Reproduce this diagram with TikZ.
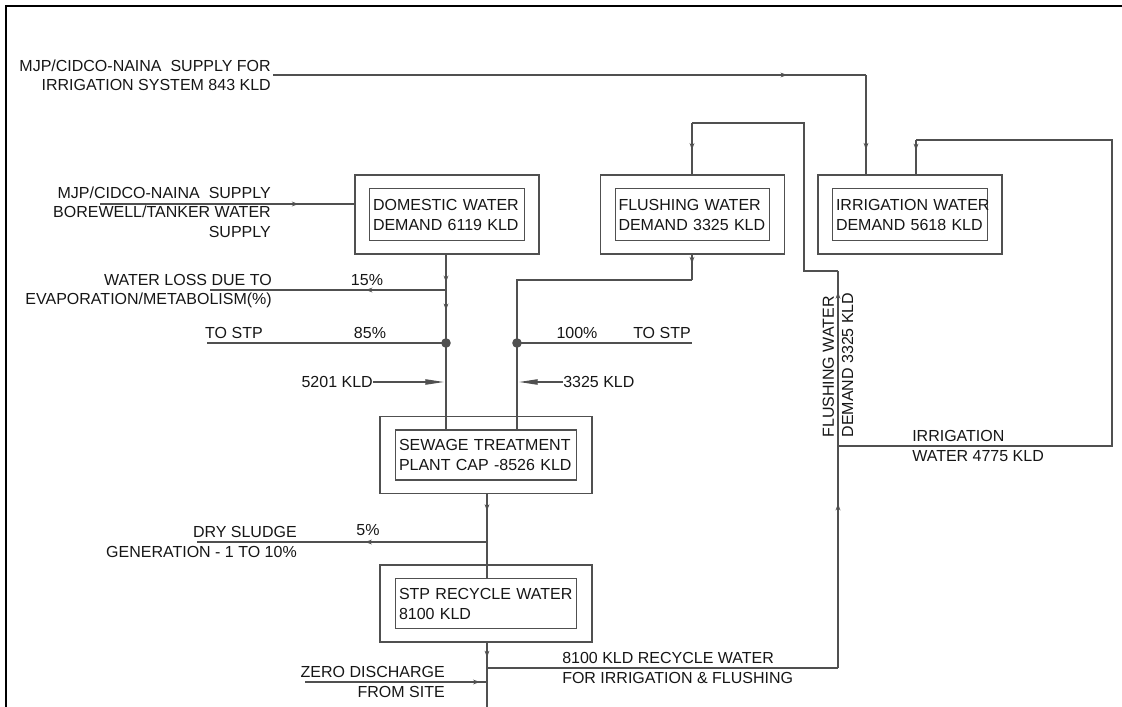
\documentclass[tikz,border=0pt]{standalone}
\usepackage{fontspec}
\setmainfont{Liberation Sans}
\usetikzlibrary{arrows.meta, positioning, calc, decorations.markings}
\definecolor{pipegray}{HTML}{505050}
\definecolor{inkgray}{HTML}{161616}

\begin{document}
\begin{tikzpicture}[x=0.75pt, y=-0.75pt, >=Stealth,
  pipe/.style={draw=pipegray, line width=0.9pt},
  flowmark/.style={postaction={decorate, decoration={markings,
      mark=at position #1 with {\arrow{Stealth[length=5pt, width=3.6pt]}}}}},
  lbl/.style={inner sep=0pt, text=inkgray, font=\fontsize{12}{14.5}\selectfont},
  demandbox/.style={draw=pipegray, line width=0.9pt, minimum width=138pt, minimum height=59.25pt},
  demandin/.style={draw=pipegray, line width=0.9pt, text width=111pt, minimum height=39pt,
      inner sep=2.5pt, align=left, text=inkgray, font=\fontsize{12}{15}\selectfont},
  stpbox/.style={demandbox, minimum width=159pt, minimum height=57.75pt},
  stpin/.style={demandin, text width=130.5pt, minimum height=37.5pt},
  joint/.style={fill=pipegray}]
  \useasboundingbox (0,0) rectangle (1122,707);
  \draw[line width=2.2pt] (1122,6) -- (6,6) -- (6,707);

  \node[demandbox] (dom) at (447,214.5) {};
  \node[demandin] (domin) at (dom.center) {DOMESTIC WATER\\DEMAND 6119 KLD};
  \node[demandbox] (flush) at (692.5,214.5) {};
  \node[demandin] (flushin) at (flush.center) {FLUSHING WATER\\DEMAND 3325 KLD};
  \node[demandbox] (irr) at (910,214.5) {};
  \node[demandin] (irrin) at (irr.center) {\mbox{IRRIGATION WATER}\\DEMAND 5618 KLD};
  \node[stpbox] (stp) at (486,455) {};
  \node[stpin] (stpinner) at (stp.center) {SEWAGE TREATMENT\\PLANT CAP -8526 KLD};
  \node[stpbox] (rec) at (486,603.5) {};
  \node[stpin] (recinner) at (rec.center) {STP RECYCLE WATER\\8100 KLD};

  \node[lbl, anchor=east, align=right] (supTopLbl) at (271,75) {MJP/CIDCO-NAINA\ \ SUPPLY FOR\\IRRIGATION SYSTEM 843 KLD};
  \node[lbl, anchor=east, align=right] (domSupLbl) at (271,212) {MJP/CIDCO-NAINA\ \ SUPPLY\\BOREWELL/TANKER WATER\\SUPPLY};
  \node[lbl, anchor=east, align=right] (lossLbl) at (272,291) {WATER LOSS DUE TO\\EVAPORATION/METABOLISM(\%)};
  \node[lbl] (lossPct) at (367,280) {15\%};
  \node[lbl, anchor=east] (toStpL) at (263,333) {TO STP};
  \node[lbl] (pctL) at (370,333) {85\%};
  \node[lbl] (pctR) at (577,333) {100\%};
  \node[lbl] (toStpR) at (662,333) {TO STP};
  \node[lbl, anchor=east] (kldL) at (373,382) {5201 KLD};
  \node[lbl, anchor=west] (kldR) at (563,382) {3325 KLD};
  \node[lbl, anchor=east, align=right] (sludgeLbl) at (297,542) {DRY SLUDGE\\GENERATION - 1 TO 10\%};
  \node[lbl] (sludgePct) at (368,530) {5\%};
  \node[lbl, anchor=east, align=right] (zeroLbl) at (445,682) {ZERO DISCHARGE\\FROM SITE};
  \node[lbl, anchor=west, align=left] (recLbl) at (562,668) {8100 KLD RECYCLE WATER\\FOR IRRIGATION \& FLUSHING};
  \node[lbl, anchor=west, align=left] (irrLbl) at (912,446) {IRRIGATION\\WATER 4775 KLD};
  \node[lbl, rotate=90, align=left] (flRot) at (838,365) {FLUSHING WATER\\DEMAND 3325 KLD};

  \coordinate (supA) at (273,75);
  \coordinate (supB) at (866,75);
  \coordinate (domSup) at (100,204);
  \coordinate (lossJ) at (446,290);
  \coordinate (lossEnd) at (210,290);
  \coordinate (dotL) at (446,343);
  \coordinate (dotR) at (517,343);
  \coordinate (toStpEndL) at (207,343);
  \coordinate (toStpEndR) at (692,343);
  \coordinate (flJ) at (692,280);
  \coordinate (sludgeJ) at (487,542);
  \coordinate (sludgeEnd) at (197,542);
  \coordinate (recJ) at (487,668);
  \coordinate (zeroJ) at (487,682);
  \coordinate (zeroEnd) at (305,682);
  \coordinate (bottomEnd) at (487,707);
  \coordinate (recR) at (838,668);
  \coordinate (irrJ) at (838,446);
  \coordinate (jogR) at (838,271);
  \coordinate (jogL) at (804,271);
  \coordinate (flTop) at (804,123);
  \coordinate (flTopL) at (692,123);
  \coordinate (irrR) at (1112,446);
  \coordinate (irrRT) at (1112,140);
  \coordinate (irrTop) at (916,140);

  \draw[pipe, flowmark=0.867] (supA) -- (supB);
  \draw[pipe, flowmark=0.75] (supB) -- (supB |- irr.north);
  \draw[pipe, flowmark=0.78] (domSup) -- (domSup -| dom.west);

  \draw[pipe, flowmark=0.78] (dom.south -| lossJ) -- (lossJ);
  \draw[pipe, flowmark=0.38] (lossJ) -- (dotL);
  \draw[pipe] (dotL) -- (dotL |- stpinner.north);
  \draw[pipe, flowmark=0.34] (lossJ) -- (lossEnd);
  \draw[pipe] (toStpEndL) -- (dotL);
  \draw[pipe, -{Triangle[length=14pt, width=4pt]}, shorten >=1.5pt] (kldL.east) -- (dotL |- kldL.east);

  \draw[pipe, flowmark=0.35] (flush.south -| flJ) -- (flJ);
  \draw[pipe] (flJ) -- (flJ -| dotR) -- (dotR) -- (dotR |- stpinner.north);
  \draw[pipe] (dotR) -- (toStpEndR);
  \draw[pipe, -{Triangle[length=14pt, width=4pt]}, shorten >=1.5pt] (kldR.west) -- (dotR |- kldR.west);
  \fill[joint] (dotL) circle (3.6pt);
  \fill[joint] (dotR) circle (3.6pt);

  \draw[pipe, flowmark=0.35] (stp.south -| sludgeJ) -- (sludgeJ);
  \draw[pipe] (sludgeJ) -- (sludgeJ |- recinner.north);
  \draw[pipe, flowmark=0.42] (sludgeJ) -- (sludgeEnd);

  \draw[pipe, flowmark=0.58] (rec.south -| recJ) -- (recJ);
  \draw[pipe] (recJ) -- (bottomEnd);
  \draw[pipe, flowmark=0.96] (zeroEnd) -- (zeroJ);

  \draw[pipe] (recJ) -- (recR);
  \draw[pipe, flowmark=0.74] (recR) -- (irrJ);
  \draw[pipe, flowmark=0.88] (irrJ) -- (jogR);
  \draw[pipe] (jogR) -- (jogL) -- (flTop) -- (flTopL);
  \draw[pipe, flowmark=0.52] (flTopL) -- (flTopL |- flush.north);

  \draw[pipe] (irrJ) -- (irrR) -- (irrRT) -- (irrTop);
  \draw[pipe, flowmark=0.3] (irrTop) -- (irrTop |- irr.north);
\end{tikzpicture}
\end{document}
